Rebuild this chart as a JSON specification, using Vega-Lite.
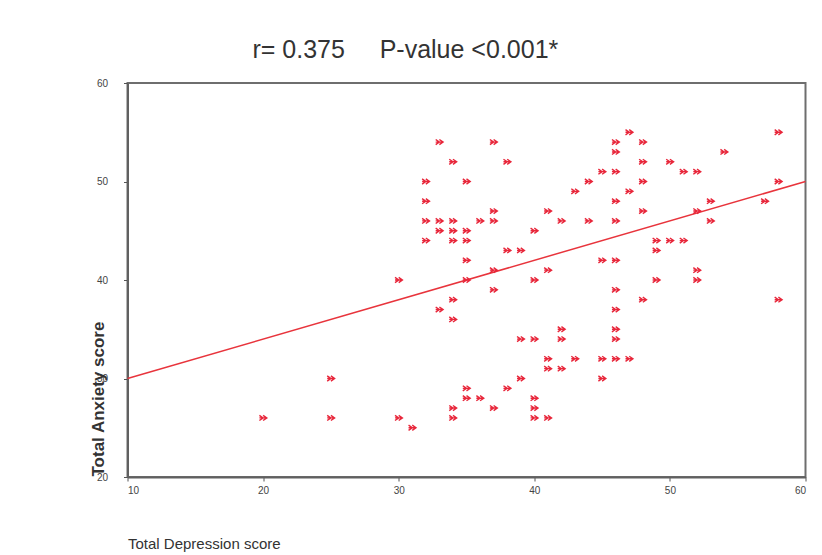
{
  "$schema": "https://vega.github.io/schema/vega-lite/v6.json",
  "autosize": "none",
  "width": 678,
  "height": 394,
  "padding": {"left": 127.5, "top": 83, "right": 16.5, "bottom": 78},
  "background": "white",
  "config": {
    "font": "Liberation Sans",
    "view": {"stroke": "#6e6e6e", "strokeWidth": 2}
  },
  "title": {
    "text": "r= 0.375\u00a0\u00a0\u00a0\u00a0\u00a0P-value <0.001*",
    "anchor": "start",
    "frame": "group",
    "dx": 125,
    "dy": 35,
    "offset": 30,
    "baseline": "alphabetic",
    "fontSize": 25,
    "fontWeight": "normal",
    "color": "#333333"
  },
  "datasets": {
    "points": [
      {"depression": 20, "anxiety": 26},
      {"depression": 25, "anxiety": 30},
      {"depression": 25, "anxiety": 26},
      {"depression": 30, "anxiety": 40},
      {"depression": 30, "anxiety": 26},
      {"depression": 31, "anxiety": 25},
      {"depression": 32, "anxiety": 50},
      {"depression": 32, "anxiety": 48},
      {"depression": 32, "anxiety": 46},
      {"depression": 32, "anxiety": 44},
      {"depression": 33, "anxiety": 54},
      {"depression": 33, "anxiety": 46},
      {"depression": 33, "anxiety": 45},
      {"depression": 33, "anxiety": 37},
      {"depression": 34, "anxiety": 52},
      {"depression": 34, "anxiety": 46},
      {"depression": 34, "anxiety": 45},
      {"depression": 34, "anxiety": 44},
      {"depression": 34, "anxiety": 38},
      {"depression": 34, "anxiety": 36},
      {"depression": 34, "anxiety": 27},
      {"depression": 34, "anxiety": 26},
      {"depression": 35, "anxiety": 50},
      {"depression": 35, "anxiety": 45},
      {"depression": 35, "anxiety": 44},
      {"depression": 35, "anxiety": 42},
      {"depression": 35, "anxiety": 40},
      {"depression": 35, "anxiety": 29},
      {"depression": 35, "anxiety": 28},
      {"depression": 36, "anxiety": 46},
      {"depression": 36, "anxiety": 28},
      {"depression": 37, "anxiety": 54},
      {"depression": 37, "anxiety": 47},
      {"depression": 37, "anxiety": 46},
      {"depression": 37, "anxiety": 41},
      {"depression": 37, "anxiety": 39},
      {"depression": 37, "anxiety": 27},
      {"depression": 38, "anxiety": 52},
      {"depression": 38, "anxiety": 43},
      {"depression": 38, "anxiety": 29},
      {"depression": 39, "anxiety": 43},
      {"depression": 39, "anxiety": 34},
      {"depression": 39, "anxiety": 30},
      {"depression": 40, "anxiety": 45},
      {"depression": 40, "anxiety": 40},
      {"depression": 40, "anxiety": 34},
      {"depression": 40, "anxiety": 28},
      {"depression": 40, "anxiety": 27},
      {"depression": 40, "anxiety": 26},
      {"depression": 41, "anxiety": 47},
      {"depression": 41, "anxiety": 41},
      {"depression": 41, "anxiety": 32},
      {"depression": 41, "anxiety": 31},
      {"depression": 41, "anxiety": 26},
      {"depression": 42, "anxiety": 46},
      {"depression": 42, "anxiety": 35},
      {"depression": 42, "anxiety": 34},
      {"depression": 42, "anxiety": 31},
      {"depression": 43, "anxiety": 49},
      {"depression": 43, "anxiety": 32},
      {"depression": 44, "anxiety": 50},
      {"depression": 44, "anxiety": 46},
      {"depression": 45, "anxiety": 51},
      {"depression": 45, "anxiety": 42},
      {"depression": 45, "anxiety": 32},
      {"depression": 45, "anxiety": 30},
      {"depression": 46, "anxiety": 54},
      {"depression": 46, "anxiety": 53},
      {"depression": 46, "anxiety": 51},
      {"depression": 46, "anxiety": 48},
      {"depression": 46, "anxiety": 46},
      {"depression": 46, "anxiety": 42},
      {"depression": 46, "anxiety": 39},
      {"depression": 46, "anxiety": 37},
      {"depression": 46, "anxiety": 35},
      {"depression": 46, "anxiety": 34},
      {"depression": 46, "anxiety": 32},
      {"depression": 47, "anxiety": 55},
      {"depression": 47, "anxiety": 49},
      {"depression": 47, "anxiety": 32},
      {"depression": 48, "anxiety": 54},
      {"depression": 48, "anxiety": 52},
      {"depression": 48, "anxiety": 50},
      {"depression": 48, "anxiety": 47},
      {"depression": 48, "anxiety": 38},
      {"depression": 49, "anxiety": 44},
      {"depression": 49, "anxiety": 43},
      {"depression": 49, "anxiety": 40},
      {"depression": 50, "anxiety": 52},
      {"depression": 50, "anxiety": 44},
      {"depression": 51, "anxiety": 51},
      {"depression": 51, "anxiety": 44},
      {"depression": 52, "anxiety": 51},
      {"depression": 52, "anxiety": 47},
      {"depression": 52, "anxiety": 41},
      {"depression": 52, "anxiety": 40},
      {"depression": 53, "anxiety": 48},
      {"depression": 53, "anxiety": 46},
      {"depression": 54, "anxiety": 53},
      {"depression": 57, "anxiety": 48},
      {"depression": 58, "anxiety": 55},
      {"depression": 58, "anxiety": 50},
      {"depression": 58, "anxiety": 38}
    ],
    "fit": [
      {"depression": 10, "anxiety": 30},
      {"depression": 60, "anxiety": 50}
    ]
  },
  "encoding": {
    "x": {
      "field": "depression",
      "type": "quantitative",
      "scale": {"domain": [10, 60], "nice": false, "zero": false},
      "axis": {
        "values": [10, 20, 30, 40, 50, 60],
        "grid": false,
        "tickSize": 4,
        "tickColor": "#555555",
        "domainColor": "#606060",
        "domainWidth": 2,
        "labelFontSize": 10,
        "labelColor": "#444444",
        "labelPadding": 4,
        "title": "Total Depression score",
        "titleFontSize": 15,
        "titleFontWeight": "normal",
        "titleColor": "#333333",
        "titleAnchor": "start",
        "titleAlign": "left",
        "titleBaseline": "middle",
        "titleX": 0,
        "titleY": 66
      }
    },
    "y": {
      "field": "anxiety",
      "type": "quantitative",
      "scale": {"domain": [20, 60], "nice": false, "zero": false},
      "axis": {
        "values": [20, 30, 40, 50, 60],
        "grid": false,
        "tickSize": 4,
        "tickColor": "#555555",
        "domainColor": "#606060",
        "domainWidth": 2,
        "labelFontSize": 10,
        "labelColor": "#444444",
        "labelPadding": 16,
        "title": "Total Anxiety score",
        "titleFontSize": 17,
        "titleFontWeight": "bold",
        "titleColor": "#333333",
        "titleAngle": -90,
        "titleAlign": "left",
        "titleBaseline": "middle",
        "titleX": -29,
        "titleY": 393
      }
    }
  },
  "layer": [
    {
      "data": {"name": "fit"},
      "mark": {"type": "line", "color": "#e8343c", "strokeWidth": 1.5}
    },
    {
      "data": {"name": "points"},
      "mark": {
        "type": "point",
        "shape": "M-1,0H1M0,-0.7L1,0L0,0.7M-1,-0.7L0,0L-1,0.7",
        "size": 55,
        "filled": false,
        "color": "#e8263a",
        "strokeWidth": 1.4,
        "opacity": 1
      }
    }
  ]
}
